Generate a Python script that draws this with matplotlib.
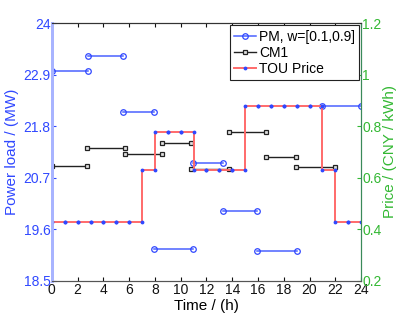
import matplotlib
matplotlib.use("Agg")
import matplotlib.pyplot as plt
import numpy as np

plt.rcParams['font.family'] = ['Liberation Sans', 'DejaVu Sans']

# PM, w=[0.1,0.9] segments (power load, MW)
pm_start = [0, 2.84, 5.51, 7.96, 10.98, 13.26, 15.95, 21.0]
pm_end = [2.84, 5.51, 7.96, 10.98, 13.26, 15.95, 19.0, 24.0]
pm_val = [22.99, 23.31, 22.10, 19.17, 21.02, 19.98, 19.13, 22.24]

# CM1 segments (power load, MW)
cm_start = [0, 2.76, 5.70, 8.54, 10.82, 13.77, 16.60, 18.95]
cm_end = [2.76, 5.70, 8.54, 10.82, 13.77, 16.60, 18.95, 22.0]
cm_val = [20.94, 21.34, 21.21, 21.44, 20.88, 21.67, 21.15, 20.93]

# TOU price per hour (CNY/kWh)
hours = list(range(24))
tou = [0.429] * 7 + [0.629] + [0.779] * 3 + [0.629] * 4 + [0.879] * 6 + [0.629] + [0.429] * 2

blue = '#3048ff'
green = '#33b833'

fig = plt.figure(figsize=(3.99, 3.16), dpi=100)
ax = fig.add_axes([0.130, 0.112, 0.775, 0.814])
ax2 = ax.twinx()

for i, (s, e, v) in enumerate(zip(pm_start, pm_end, pm_val)):
    ax.plot([s, e], [v, v], '-o', color='#4a62ff', lw=1.1, ms=4,
            mfc='none', mec=blue, mew=0.9,
            label='PM, w=[0.1,0.9]' if i == 0 else None)
for i, (s, e, v) in enumerate(zip(cm_start, cm_end, cm_val)):
    ax.plot([s, e], [v, v], '-s', color='#222222', lw=1.0, ms=3.5,
            mfc='#e0e0e0', mec='#222222', mew=0.9,
            label='CM1' if i == 0 else None)

tx, ty = [], []
for h, p in zip(hours, tou):
    tx += [h, h + 1]
    ty += [p, p]
ax2.plot(tx, ty, '-', color='#ff6a6a', lw=1.4, marker='.', ms=3.5,
         mfc=blue, mec=blue, label='TOU Price')

ax.set_xlim(0, 24)
ax.set_ylim(18.5, 24)
ax.set_xticks(np.arange(0, 25, 2))
ax.set_yticks([18.5, 19.6, 20.7, 21.8, 22.9, 24])
ax.set_yticklabels(['18.5', '19.6', '20.7', '21.8', '22.9', '24'])
ax2.set_ylim(0.2, 1.2)
ax2.set_yticks([0.2, 0.4, 0.6, 0.8, 1.0, 1.2])
ax2.set_yticklabels(['0.2', '0.4', '0.6', '0.8', '1', '1.2'])

ax.tick_params(axis='x', direction='in', top=True, labelsize=10, length=3, colors='#111111', pad=2)
ax.tick_params(axis='y', direction='in', labelsize=10, length=3, colors=blue, pad=1)
ax2.tick_params(axis='y', direction='in', labelsize=10, length=3, colors=green, pad=1)

ax.set_xlabel('Time / (h)', fontsize=11, labelpad=1)
ax.set_ylabel('Power load / (MW)', fontsize=11, color=blue, labelpad=3)
ax2.set_ylabel('Price / (CNY / kWh)', fontsize=11, color=green, labelpad=1)

for a in (ax, ax2):
    a.spines['left'].set_color('#a8b4ff')
    a.spines['left'].set_linewidth(2)
    a.spines['right'].set_color('#3a8a5a')
    a.spines['top'].set_color('#333333')
    a.spines['bottom'].set_color('#555555')

h1, l1 = ax.get_legend_handles_labels()
h2, l2 = ax2.get_legend_handles_labels()
leg = ax2.legend(h1 + h2, l1 + l2, loc='upper right', fontsize=10,
                 handlelength=1.6, handletextpad=0.2, borderpad=0.3,
                 labelspacing=0.15, borderaxespad=0.15, fancybox=False,
                 framealpha=1)
leg.get_frame().set_edgecolor('#222222')
leg.get_frame().set_linewidth(0.8)

fig.savefig('out.png', dpi=100)
